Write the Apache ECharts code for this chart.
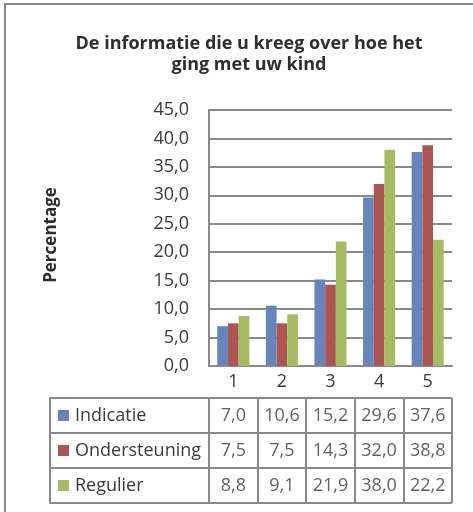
<!DOCTYPE html>
<html>
<head>
<meta charset="utf-8">
<script src="https://cdn.jsdelivr.net/npm/echarts@6/dist/echarts.min.js"></script>
<style>
  html, body { margin: 0; padding: 0; background: #fff; }
  #chart { width: 473px; height: 512px; }
</style>
</head>
<body>
<div id="chart"></div>
<script>
const categories = ['1', '2', '3', '4', '5']
const seriesNames = ['Indicatie', 'Ondersteuning', 'Regulier']
const indicatie = [7.0, 10.6, 15.2, 29.6, 37.6]
const ondersteuning = [7.5, 7.5, 14.3, 32.0, 38.8]
const regulier = [8.8, 9.1, 21.9, 38.0, 22.2]
const colors = ['#6685BD', '#AC5653', '#A6BC63']

const allValues = [indicatie, ondersteuning, regulier]
const gray = '#8a8a8a'
const textColor = '#3a3a3a'
const font = '"Open Sans", "Noto Sans", sans-serif'

function fmt(v) {
  return v.toFixed(1).replace('.', ',')
}

// cells of the data table: [category, row, value]
let tableData = []
allValues.forEach((vals, s) => {
  vals.forEach((v, c) => {
    tableData.push([c, s, v])
  })
})

let rich = {
  t: { fontSize: 18, color: textColor, fontFamily: font, padding: [0, 0, 0, 6] }
}
colors.forEach((c, i) => {
  rich['s' + i] = { width: 11, height: 11, backgroundColor: c }
})

let myChart = echarts.init(document.getElementById('chart'))
myChart.setOption({
  animation: false,
  textStyle: { fontFamily: font },
  title: {
    text: 'De informatie die u kreeg over hoe het\nging met uw kind',
    left: 244,
    top: 28,
    textAlign: 'center',
    textStyle: { fontSize: 18, fontWeight: 'bold', color: '#2e2e2e', lineHeight: 21, fontFamily: font }
  },
  graphic: [{
    type: 'polyline',
    shape: { points: [[5, 512], [5, 4], [473, 4]] },
    style: { stroke: gray, lineWidth: 2, fill: null }
  }],
  grid: [
    { left: 209, right: 21, top: 110, bottom: 146 },
    { left: 209, right: 21, top: 398, bottom: 9 }
  ],
  xAxis: [
    {
      type: 'category',
      data: categories,
      axisLine: { lineStyle: { color: gray, width: 2 } },
      axisTick: { length: 32, lineStyle: { color: gray, width: 2 } },
      axisLabel: { fontSize: 18, color: textColor, margin: 7 }
    },
    {
      type: 'category',
      gridIndex: 1,
      data: categories,
      axisLine: { show: false },
      axisTick: { show: false },
      axisLabel: { show: false },
      splitLine: { show: true, lineStyle: { color: gray, width: 2 } }
    }
  ],
  yAxis: [
    {
      type: 'value',
      min: 0,
      max: 45,
      interval: 5,
      name: 'Percentage',
      nameLocation: 'middle',
      nameRotate: 90,
      nameGap: 149,
      nameTextStyle: { fontSize: 17, fontWeight: 'bold', color: '#2e2e2e', padding: [0, 0, 0, 6] },
      axisLine: { show: true, lineStyle: { color: gray, width: 2 } },
      axisTick: { show: false },
      axisLabel: { fontSize: 18, color: textColor, margin: 20, formatter: fmt },
      splitLine: { lineStyle: { color: gray, width: 2 } }
    },
    {
      type: 'category',
      gridIndex: 1,
      data: seriesNames,
      inverse: true,
      offset: 159,
      axisLine: { show: true, lineStyle: { color: gray, width: 2 } },
      axisTick: { show: true, inside: true, length: 159, lineStyle: { color: gray, width: 2 } },
      axisLabel: {
        inside: true,
        margin: 8,
        formatter: (v, i) => '{s' + i + '|}{t|' + v + '}',
        rich: rich
      },
      splitLine: { show: true, lineStyle: { color: gray, width: 2 } }
    }
  ],
  series: [
    {
      name: seriesNames[0], type: 'bar', data: indicatie,
      itemStyle: { color: colors[0] }, barGap: '0%', barCategoryGap: '34%'
    },
    {
      name: seriesNames[1], type: 'bar', data: ondersteuning,
      itemStyle: { color: colors[1] }, barGap: '0%', barCategoryGap: '34%'
    },
    {
      name: seriesNames[2], type: 'bar', data: regulier,
      itemStyle: { color: colors[2] }, barGap: '0%', barCategoryGap: '34%'
    },
    {
      type: 'scatter',
      xAxisIndex: 1,
      yAxisIndex: 1,
      data: tableData,
      symbolSize: 1,
      itemStyle: { color: 'transparent' },
      silent: true,
      label: {
        show: true,
        position: 'inside',
        fontSize: 18,
        color: textColor,
        formatter: p => fmt(p.value[2])
      }
    }
  ]
})
</script>
</body>
</html>
